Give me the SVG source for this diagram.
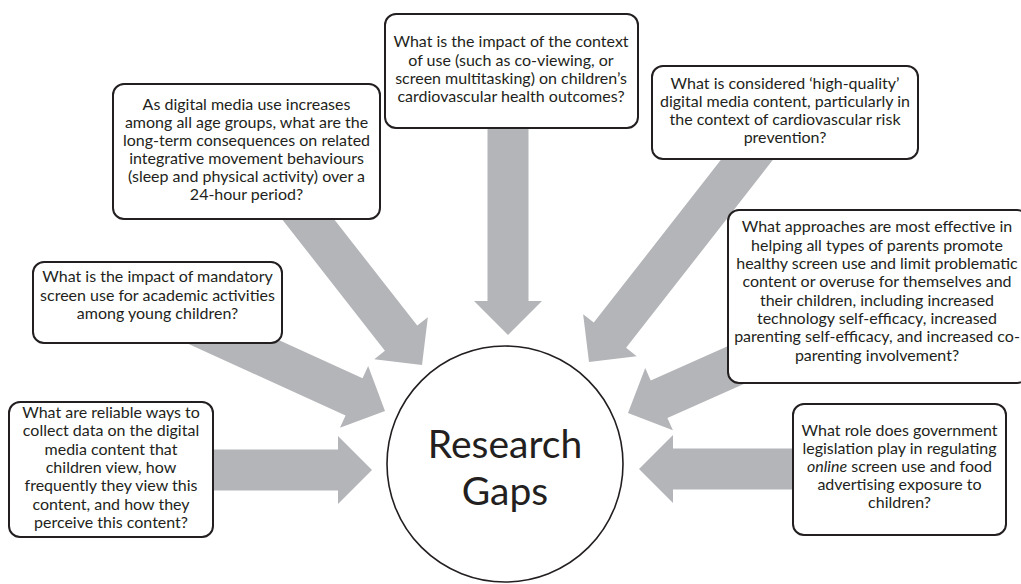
<svg xmlns="http://www.w3.org/2000/svg" width="1021" height="584" viewBox="0 0 1021 584">
  <defs>
    <style>
      .arrow { fill: #b4b5b8; stroke: none; }
      .box { fill: #ffffff; stroke: #231f20; stroke-width: 2; }
      .hub { fill: #ffffff; stroke: #231f20; stroke-width: 1.6; }
      .q { font-family: Lato, "Open Sans", "Liberation Sans", sans-serif; font-size: 16px; fill: #231f20; text-anchor: middle; }
      .hubtext { font-family: Lato, "Open Sans", "Liberation Sans", sans-serif; font-size: 39px; fill: #231f20; text-anchor: middle; }
    </style>
  </defs>
  <rect width="1021" height="584" fill="#ffffff"/>

  <!-- connectors: grey block arrows, tip at the local origin pointing +x -->
  <g id="connectors">
    <polygon class="arrow" transform="translate(508,335) rotate(90)" points="-215,-20.5 -34,-20.5 -34,-34 0,0 -34,34 -34,20.5 -215,20.5"/>
    <polygon class="arrow" transform="translate(422,365) rotate(52)" points="-230,-20.5 -34,-20.5 -34,-34 0,0 -34,34 -34,20.5 -230,20.5"/>
    <polygon class="arrow" transform="translate(589,362) rotate(128)" points="-290,-20.5 -34,-20.5 -34,-34 0,0 -34,34 -34,20.5 -290,20.5"/>
    <polygon class="arrow" transform="translate(628,413) rotate(156)" points="-160,-20.5 -34,-20.5 -34,-34 0,0 -34,34 -34,20.5 -160,20.5"/>
    <polygon class="arrow" transform="translate(385,411) rotate(24.5)" points="-230,-20.5 -34,-20.5 -34,-34 0,0 -34,34 -34,20.5 -230,20.5"/>
    <polygon class="arrow" transform="translate(372,470)" points="-172,-20.5 -34,-20.5 -34,-34 0,0 -34,34 -34,20.5 -172,20.5"/>
    <polygon class="arrow" transform="translate(639,469) rotate(180)" points="-171,-20.5 -34,-20.5 -34,-34 0,0 -34,34 -34,20.5 -171,20.5"/>
  </g>

  <g id="hub">
    <circle class="hub" cx="505" cy="464" r="118"/>
    <text class="hubtext" x="505" y="458">Research</text>
    <text class="hubtext" x="505" y="505">Gaps</text>
  </g>

  <g id="gap-context">
    <rect class="box" x="385" y="14" width="253" height="114" rx="11"/>
    <text class="q" x="511" y="47">What is the impact of the context</text>
    <text class="q" x="511" y="65.5">of use (such as co-viewing, or</text>
    <text class="q" x="511" y="84">screen multitasking) on children’s</text>
    <text class="q" x="511" y="102">cardiovascular health outcomes?</text>
  </g>

  <g id="gap-movement">
    <rect class="box" x="113" y="84" width="267" height="135" rx="11"/>
    <text class="q" x="246.5" y="110">As digital media use increases</text>
    <text class="q" x="246.5" y="128">among all age groups, what are the</text>
    <text class="q" x="246.5" y="146">long-term consequences on related</text>
    <text class="q" x="246.5" y="164">integrative movement behaviours</text>
    <text class="q" x="246.5" y="182">(sleep and physical activity) over a</text>
    <text class="q" x="246.5" y="200">24-hour period?</text>
  </g>

  <g id="gap-quality">
    <rect class="box" x="652" y="66" width="266" height="93" rx="11"/>
    <text class="q" x="785" y="89">What is considered ‘high-quality’</text>
    <text class="q" x="785" y="107">digital media content, particularly in</text>
    <text class="q" x="785" y="125">the context of cardiovascular risk</text>
    <text class="q" x="785" y="143">prevention?</text>
  </g>

  <g id="gap-parents">
    <rect class="box" x="728" y="210" width="300" height="173" rx="11"/>
    <text class="q" x="877" y="232">What approaches are most effective in</text>
    <text class="q" x="877" y="250.5">helping all types of parents promote</text>
    <text class="q" x="877" y="269">healthy screen use and limit problematic</text>
    <text class="q" x="877" y="287">content or overuse for themselves and</text>
    <text class="q" x="877" y="305.5">their children, including increased</text>
    <text class="q" x="877" y="324">technology self-efficacy, increased</text>
    <text class="q" x="877" y="342">parenting self-efficacy, and increased co-</text>
    <text class="q" x="877" y="360.5">parenting involvement?</text>
  </g>

  <g id="gap-mandatory">
    <rect class="box" x="33" y="262" width="249" height="81" rx="11"/>
    <text class="q" x="157.5" y="282">What is the impact of mandatory</text>
    <text class="q" x="157.5" y="300.5">screen use for academic activities</text>
    <text class="q" x="157.5" y="319">among young children?</text>
  </g>

  <g id="gap-measurement">
    <rect class="box" x="9" y="402" width="204" height="135" rx="11"/>
    <text class="q" x="111" y="418">What are reliable ways to</text>
    <text class="q" x="111" y="436">collect data on the digital</text>
    <text class="q" x="111" y="454.5">media content that</text>
    <text class="q" x="111" y="473">children view, how</text>
    <text class="q" x="111" y="491">frequently they view this</text>
    <text class="q" x="111" y="509.5">content, and how they</text>
    <text class="q" x="111" y="528">perceive this content?</text>
  </g>

  <g id="gap-legislation">
    <rect class="box" x="793" y="404" width="213" height="131" rx="11"/>
    <text class="q" x="899.5" y="436">What role does government</text>
    <text class="q" x="899.5" y="454">legislation play in regulating</text>
    <text class="q" x="899.5" y="472"><tspan font-style="italic">online</tspan> screen use and food</text>
    <text class="q" x="899.5" y="490">advertising exposure to</text>
    <text class="q" x="899.5" y="508">children?</text>
  </g>
</svg>
